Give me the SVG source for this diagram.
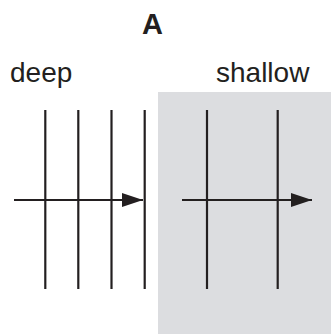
<svg xmlns="http://www.w3.org/2000/svg" width="331" height="334" viewBox="0 0 331 334">
<defs>
<style>
.t{font-family:"Liberation Sans",Arial,sans-serif;fill:#231f20}
.v{stroke:#231f20;stroke-width:2.2;fill:none}
.h{stroke:#231f20;stroke-width:2.2;fill:none}
</style>
<marker id="ah" markerUnits="userSpaceOnUse" markerWidth="22" markerHeight="14" refX="21" refY="7" orient="auto"><path d="M0,0 L21,7 L0,14 Z" fill="#231f20"/></marker>
</defs>
<rect x="158" y="92" width="173" height="242" fill="#dcdde0"/>
<text class="t" x="152.5" y="34" font-size="29" font-weight="bold" text-anchor="middle">A</text>
<text class="t" x="10" y="82" font-size="28">deep</text>
<text class="t" x="216" y="82" font-size="28">shallow</text>
<g id="deep">
<line class="v" x1="45.3" y1="110" x2="45.3" y2="289"/>
<line class="v" x1="78.3" y1="110" x2="78.3" y2="289"/>
<line class="v" x1="111.5" y1="110" x2="111.5" y2="289"/>
<line class="v" x1="144.7" y1="110" x2="144.7" y2="289"/>
</g>
<g id="shallow">
<line class="v" x1="207" y1="110" x2="207" y2="289"/>
<line class="v" x1="277.7" y1="110" x2="277.7" y2="289"/>
</g>
<g id="connectors">
<line class="h" x1="14" y1="200" x2="143" y2="200" marker-end="url(#ah)"/>
<line class="h" x1="182" y1="200" x2="312" y2="200" marker-end="url(#ah)"/>
</g>
</svg>
